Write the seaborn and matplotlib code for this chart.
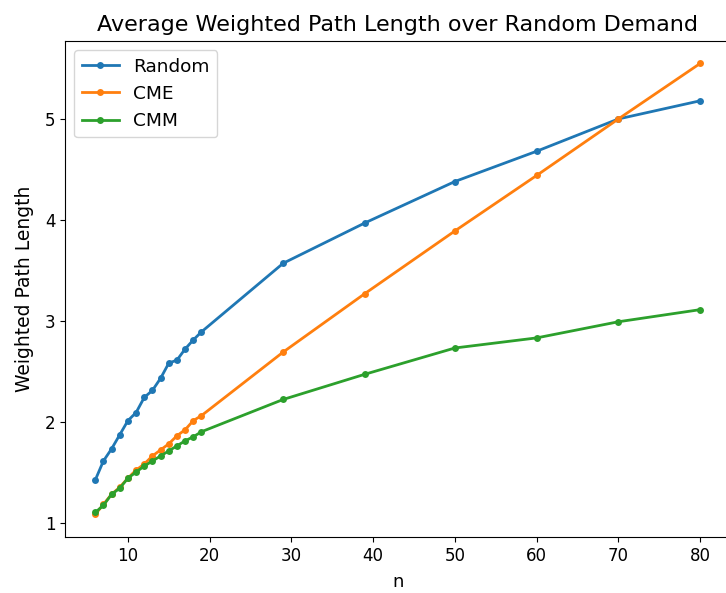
import matplotlib
matplotlib.use("Agg")
import matplotlib.pyplot as plt
import seaborn as sns
import pandas as pd

n_values = [6, 7, 8, 9, 10, 11, 12, 13, 14, 15, 16, 17, 18, 19, 29, 39, 50, 60, 70, 80]
random_vals = [1.42, 1.61, 1.73, 1.87, 2.01, 2.09, 2.24, 2.31, 2.43, 2.58, 2.61, 2.72, 2.81, 2.89,
               3.57, 3.97, 4.38, 4.68, 5.00, 5.18]
cme_vals = [1.08, 1.18, 1.28, 1.35, 1.44, 1.52, 1.58, 1.66, 1.72, 1.78, 1.86, 1.92, 2.01, 2.06,
            2.69, 3.27, 3.89, 4.44, 5.00, 5.55]
cmm_vals = [1.10, 1.17, 1.28, 1.34, 1.44, 1.50, 1.56, 1.61, 1.66, 1.71, 1.76, 1.81, 1.85, 1.90,
            2.22, 2.47, 2.73, 2.83, 2.99, 3.11]
series_names = ["Random", "CME", "CMM"]

rows = []
for name, vals in zip(series_names, [random_vals, cme_vals, cmm_vals]):
    for n, v in zip(n_values, vals):
        rows.append({"n": n, "value": v, "Method": name})
df = pd.DataFrame(rows)

fig, ax = plt.subplots(figsize=(7.26, 5.93), dpi=100)
colors = ["#1f77b4", "#ff7f0e", "#2ca02c"]
sns.lineplot(data=df, x="n", y="value", hue="Method", hue_order=series_names,
             palette=colors, marker="o", markersize=5, markeredgewidth=0,
             linewidth=2, ax=ax)
ax.set_title("Average Weighted Path Length over Random Demand", fontsize=16, pad=7)
ax.set_xlabel("n", fontsize=13, labelpad=6)
ax.set_ylabel("Weighted Path Length", fontsize=13.5, labelpad=8)
ax.tick_params(labelsize=12)
ax.set_xticks([10, 20, 30, 40, 50, 60, 70, 80])
ax.set_yticks([1, 2, 3, 4, 5])
leg = ax.legend(loc="upper left", fontsize=13.3)
fig.subplots_adjust(left=0.0895, right=1.006, bottom=0.0944, top=0.931)
fig.savefig("out.png", dpi=100)
